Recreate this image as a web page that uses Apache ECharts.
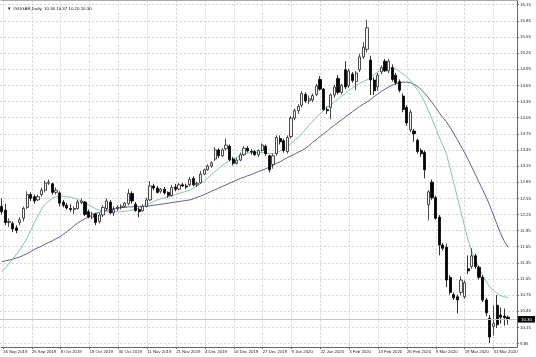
<!DOCTYPE html>
<html><head><meta charset="utf-8">
<script src="https://cdn.jsdelivr.net/npm/echarts@6/dist/echarts.min.js"></script>
<style>html,body{margin:0;padding:0;background:#fff}#c{width:536px;height:357px}</style>
</head><body><div id="c"></div>
<script>
const symbolTitle = '#SUGAR,Daily  10.34 10.37 10.20 10.30';
const firstDate = '2019-09-16';
const holidays = ['2019-11-28','2019-12-25','2020-01-01','2020-01-20','2020-02-17'];
const barCount = 141;
const priceMin = 9.85, priceMax = 16.15, priceStep = 0.30;

const opens = [12.40,12.33,12.10,12.08,12.00,12.10,12.18,12.38,12.62,12.58,12.52,12.62,12.70,12.83,12.82,12.66,12.65,12.48,12.42,12.36,
12.34,12.36,12.47,12.48,12.30,12.20,12.26,12.12,12.24,12.36,12.48,12.28,12.36,12.38,12.40,12.45,12.64,12.44,12.34,12.32,
12.40,12.52,12.78,12.74,12.68,12.72,12.66,12.60,12.76,12.72,12.80,12.78,12.80,12.92,12.80,12.84,13.00,13.08,13.15,13.28,
13.45,13.34,13.47,13.52,13.28,13.20,13.26,13.36,13.48,13.42,13.42,13.36,13.44,13.52,13.34,13.18,13.38,13.66,13.62,13.42,
13.70,14.04,14.18,14.28,14.48,14.36,14.38,14.48,14.76,14.58,14.20,14.24,14.47,14.78,14.52,14.94,14.64,14.86,14.72,14.94,
15.18,15.32,15.12,14.75,14.62,14.90,15.10,14.92,14.98,14.84,14.72,14.45,14.24,13.82,13.80,13.63,13.44,13.40,12.43,12.85,
12.56,12.20,11.68,11.64,11.08,10.76,10.72,10.80,10.72,11.24,11.28,11.48,11.27,11.08,10.66,10.32,10.17,10.56,10.38,10.36,10.34];
const highs = [12.55,12.45,12.18,12.12,12.05,12.20,12.40,12.68,12.66,12.62,12.62,12.75,12.88,12.90,12.84,12.75,12.68,12.52,12.46,12.44,
12.40,12.52,12.55,12.50,12.34,12.30,12.28,12.28,12.42,12.55,12.52,12.40,12.42,12.44,12.48,12.72,12.68,12.48,12.38,12.44,
12.56,12.87,12.82,12.78,12.74,12.76,12.68,12.80,12.82,12.84,12.84,12.82,12.95,12.96,12.86,13.06,13.10,13.18,13.24,13.50,
13.48,13.48,13.66,13.55,13.32,13.30,13.40,13.52,13.52,13.46,13.45,13.46,13.57,13.55,13.36,13.38,13.72,13.72,13.66,13.72,
14.08,14.22,14.30,14.54,14.52,14.46,14.50,14.68,14.82,14.60,14.26,14.50,14.66,14.84,14.68,15.10,14.96,14.90,14.92,15.24,
15.45,15.87,15.20,14.80,14.88,15.02,15.14,15.14,15.04,14.88,14.76,14.50,14.28,14.20,13.84,13.66,13.48,13.44,12.70,12.90,
12.60,12.24,11.72,11.70,11.12,10.80,10.76,11.10,11.02,11.49,11.62,11.52,11.30,11.12,10.70,10.38,10.56,10.75,10.52,10.50,10.37];
const lows = [12.25,12.05,12.02,11.92,11.90,12.05,12.12,12.35,12.50,12.45,12.50,12.58,12.66,12.80,12.62,12.62,12.40,12.38,12.34,12.30,
12.26,12.34,12.44,12.22,12.18,12.16,12.05,12.08,12.20,12.32,12.25,12.22,12.32,12.34,12.38,12.42,12.45,12.30,12.20,12.30,
12.38,12.50,12.70,12.64,12.64,12.62,12.56,12.58,12.68,12.70,12.76,12.72,12.77,12.77,12.76,12.82,12.98,13.06,13.12,13.24,
13.30,13.32,13.44,13.24,13.16,13.18,13.24,13.34,13.40,13.36,13.34,13.32,13.42,13.34,13.03,13.10,13.34,13.55,13.40,13.38,
13.66,14.00,14.12,14.24,14.32,14.30,14.34,14.45,14.55,14.18,14.12,14.02,14.42,14.48,14.48,14.58,14.60,14.70,14.56,14.90,
15.14,15.26,14.47,14.47,14.55,14.86,14.90,14.88,14.72,14.66,14.52,14.15,13.90,13.78,13.60,13.38,13.32,12.92,12.14,12.52,
12.15,11.49,11.58,10.90,10.76,10.66,10.41,10.75,10.68,11.14,11.24,11.24,11.04,10.62,10.36,9.86,10.00,10.14,10.22,10.18,10.20];
const closes = [12.30,12.10,12.12,11.98,11.95,12.15,12.36,12.62,12.55,12.50,12.58,12.70,12.83,12.85,12.66,12.70,12.46,12.42,12.37,12.34,
12.36,12.48,12.50,12.25,12.20,12.26,12.10,12.24,12.38,12.50,12.28,12.34,12.38,12.40,12.46,12.64,12.50,12.32,12.30,12.40,
12.52,12.78,12.74,12.66,12.72,12.65,12.60,12.75,12.72,12.80,12.78,12.76,12.90,12.80,12.83,13.00,13.08,13.15,13.21,13.45,
13.34,13.45,13.54,13.27,13.20,13.26,13.36,13.48,13.43,13.41,13.36,13.44,13.54,13.38,13.08,13.34,13.68,13.60,13.44,13.68,
14.04,14.18,14.26,14.50,14.36,14.40,14.46,14.64,14.58,14.20,14.18,14.47,14.62,14.52,14.65,14.62,14.92,14.74,14.88,15.18,
15.36,15.72,14.75,14.55,14.84,14.98,14.92,15.10,14.76,14.70,14.56,14.20,13.95,14.15,13.75,13.42,13.38,13.08,12.67,12.56,
12.18,11.68,11.62,11.03,10.80,10.70,10.66,11.03,10.98,11.20,11.48,11.28,11.08,10.66,10.42,9.97,10.22,10.20,10.34,10.33,10.30];

const maFast = [11.18,11.26,11.34,11.42,11.51,11.59,11.70,11.82,11.95,12.10,12.22,12.35,12.44,12.50,12.55,12.58,12.59,12.59,12.58,12.57,
12.55,12.53,12.50,12.47,12.43,12.39,12.35,12.33,12.31,12.30,12.30,12.30,12.30,12.30,12.31,12.32,12.33,12.34,12.37,12.40,
12.43,12.46,12.49,12.52,12.54,12.56,12.58,12.60,12.62,12.64,12.66,12.68,12.70,12.74,12.78,12.83,12.87,12.93,12.99,13.05,
13.11,13.16,13.21,13.25,13.28,13.31,13.34,13.37,13.39,13.40,13.40,13.40,13.40,13.39,13.38,13.38,13.40,13.43,13.46,13.51,
13.57,13.63,13.68,13.75,13.83,13.91,13.98,14.06,14.12,14.18,14.24,14.29,14.34,14.40,14.45,14.50,14.56,14.60,14.65,14.69,
14.72,14.75,14.80,14.85,14.90,14.94,14.96,14.97,14.97,14.95,14.91,14.86,14.81,14.74,14.66,14.56,14.46,14.33,14.18,14.02,
13.86,13.69,13.53,13.37,13.11,12.84,12.57,12.30,12.03,11.77,11.56,11.39,11.25,11.12,11.00,10.90,10.84,10.78,10.74,10.72,10.70];
const maSlow = [11.37,11.39,11.40,11.42,11.44,11.46,11.49,11.52,11.56,11.60,11.63,11.66,11.70,11.73,11.76,11.80,11.83,11.88,11.93,11.98,
12.04,12.09,12.13,12.17,12.20,12.24,12.27,12.29,12.31,12.33,12.34,12.36,12.37,12.38,12.38,12.39,12.39,12.40,12.40,12.40,
12.41,12.41,12.42,12.43,12.44,12.45,12.46,12.47,12.48,12.49,12.50,12.51,12.52,12.54,12.57,12.59,12.62,12.65,12.68,12.71,
12.74,12.77,12.80,12.83,12.86,12.89,12.92,12.94,12.97,12.99,13.02,13.05,13.07,13.10,13.13,13.16,13.20,13.23,13.27,13.31,
13.34,13.37,13.41,13.44,13.48,13.53,13.59,13.64,13.70,13.75,13.80,13.86,13.91,13.96,14.01,14.06,14.11,14.16,14.21,14.26,
14.30,14.34,14.39,14.44,14.49,14.54,14.58,14.62,14.65,14.68,14.70,14.71,14.71,14.70,14.67,14.63,14.57,14.50,14.42,14.33,
14.24,14.14,14.05,13.97,13.87,13.76,13.64,13.52,13.40,13.27,13.13,12.99,12.85,12.71,12.57,12.41,12.24,12.06,11.89,11.75,11.64];

// trading-day categories
const MON = ['Jan','Feb','Mar','Apr','May','Jun','Jul','Aug','Sep','Oct','Nov','Dec'];
const categories = [];
{
  let d = new Date(firstDate + 'T00:00:00Z');
  while (categories.length < barCount) {
    const iso = d.toISOString().slice(0,10);
    const wd = d.getUTCDay();
    if (wd !== 0 && wd !== 6 && holidays.indexOf(iso) < 0) {
      categories.push(d.getUTCDate() + ' ' + MON[d.getUTCMonth()] + ' ' + d.getUTCFullYear());
    }
    d = new Date(d.getTime() + 86400000);
  }
  categories.push('', ''); // right margin
}
const candles = opens.map((o, i) => [o, closes[i], lows[i], highs[i]]);
const lastClose = closes[closes.length - 1];

const FONT = 'Liberation Sans';
const chart = echarts.init(document.getElementById('c'), null, {renderer: 'canvas'});
chart.setOption({
  animation: false,
  backgroundColor: '#ffffff',
  title: {
    text: '▼ ' + symbolTitle, left: 2, top: 2,
    textStyle: {fontSize: 4.4, fontWeight: 'normal', color: '#111', fontFamily: FONT}
  },
  grid: [
    {left: 0, right: 19, top: 4.7, bottom: 13.5},
    {left: 0, right: 19, top: 0.5, bottom: 10}
  ],
  xAxis: [
    {type: 'category', gridIndex: 0, data: categories, boundaryGap: true,
     axisLine: {show: false}, axisTick: {show: false}, axisLabel: {show: false}, splitLine: {show: false}},
    {type: 'category', gridIndex: 1, data: categories, boundaryGap: true, position: 'bottom',
     axisLine: {show: true, lineStyle: {color: '#666', width: 1}},
     axisTick: {show: true, interval: 7, alignWithLabel: true, length: 2, lineStyle: {color: '#666'}},
     axisLabel: {interval: 7, align: 'left', fontSize: 4.3, color: '#222', margin: 2.5, fontFamily: FONT, hideOverlap: false},
     splitLine: {show: true, interval: 7, alignWithLabel: true, lineStyle: {color: '#d4d4d4', type: [2, 2], width: 1}}},
    {type: 'category', gridIndex: 1, data: categories, position: 'top',
     axisLine: {show: true, lineStyle: {color: '#aaa', width: 1}}, axisTick: {show: false}, axisLabel: {show: false}, splitLine: {show: false}}
  ],
  yAxis: [
    {type: 'value', gridIndex: 0, position: 'right', min: priceMin, max: priceMax, interval: priceStep, scale: true,
     axisLine: {show: false},
     axisTick: {show: true, length: 2, lineStyle: {color: '#666'}},
     axisLabel: {fontSize: 4.4, color: '#222', margin: 3, fontFamily: FONT, formatter: v => v.toFixed(2)},
     splitLine: {show: true, lineStyle: {color: '#d4d4d4', type: [2, 2], width: 1}}},
    {type: 'value', gridIndex: 1, position: 'right', min: 0, max: 1,
     axisLine: {show: true, lineStyle: {color: '#666', width: 1}}, axisTick: {show: false}, axisLabel: {show: false}, splitLine: {show: false}}
  ],
  series: [
    {type: 'line', name: 'MA slow', xAxisIndex: 0, yAxisIndex: 0, data: maSlow, showSymbol: false, smooth: false,
     lineStyle: {color: '#5f5f96', width: 1}, z: 2},
    {type: 'line', name: 'MA fast', xAxisIndex: 0, yAxisIndex: 0, data: maFast, showSymbol: false, smooth: false,
     lineStyle: {color: '#86c4a4', width: 1}, z: 2},
    {type: 'candlestick', xAxisIndex: 0, yAxisIndex: 0, data: candles, barWidth: '72%', z: 3,
     itemStyle: {color: '#f2f2f2', color0: '#000000', borderColor: '#222222', borderColor0: '#000000', borderWidth: 0.8},
     markLine: {symbol: 'none', silent: true, animation: false,
       data: [{yAxis: lastClose}],
       lineStyle: {color: '#c4c4c4', type: 'solid', width: 1},
       label: {position: 'end', formatter: lastClose.toFixed(2), color: '#fff', backgroundColor: '#000',
               fontSize: 4.4, fontFamily: FONT, padding: [1.5, 3, 1, 3], distance: 1}}}
  ]
});
</script></body></html>
